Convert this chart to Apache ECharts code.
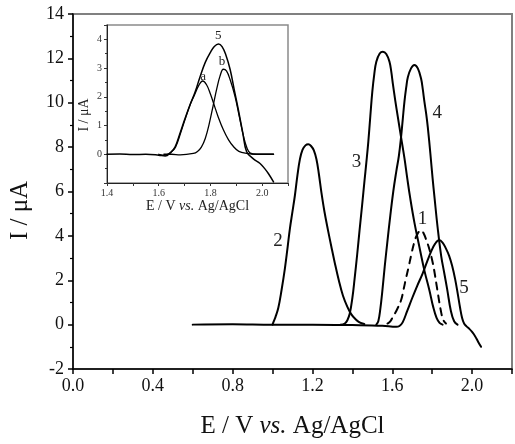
<!DOCTYPE html>
<html>
<head>
<meta charset="utf-8">
<script src="https://cdn.jsdelivr.net/npm/echarts@6/dist/echarts.min.js"></script>
<style>
html, body { margin: 0; padding: 0; background: #fff; }
#chart { width: 515px; height: 444px; }
</style>
</head>
<body>
<div id="chart"></div>
<script>
var mychart = echarts.init(document.getElementById('chart'));
var FONT = 'Liberation Serif';

// main plot: potential (V) vs current (uA)
const curve2 = [[1.00,0],[1.004,0.1],[1.015,0.35],[1.029,0.76],[1.045,1.55],[1.062,2.54],[1.075,3.45],
    [1.087,4.33],[1.10,5.1],[1.112,5.82],[1.125,6.75],[1.137,7.45],[1.15,7.88],[1.165,8.08],[1.179,8.13],
    [1.193,8.05],[1.207,7.85],[1.22,7.45],[1.232,6.8],[1.245,5.95],[1.26,5.1],[1.278,4.25],[1.295,3.5],
    [1.312,2.78],[1.332,2.0],[1.353,1.3],[1.375,0.8],[1.395,0.46],[1.415,0.25],[1.436,0.1],[1.46,0.03]];
const curve3 = [[1.34,0],[1.362,0.05],[1.375,0.2],[1.387,0.5],[1.40,1.2],[1.411,2.05],[1.424,3.15],
    [1.436,4.25],[1.449,5.4],[1.461,6.5],[1.47,7.3],[1.48,8.25],[1.49,9.4],[1.50,10.5],[1.51,11.3],
    [1.52,11.85],[1.537,12.22],[1.553,12.3],[1.57,12.2],[1.586,11.85],[1.595,11.4],[1.603,10.85],
    [1.615,10.1],[1.628,9.35],[1.644,8.45],[1.661,7.5],[1.675,6.6],[1.69,5.7],[1.711,4.6],[1.736,3.5],
    [1.762,2.4],[1.786,1.55],[1.805,0.8],[1.822,0.3],[1.837,0.08],[1.852,0]];
const curve4 = [[1.52,0],[1.53,0.15],[1.54,0.7],[1.55,1.5],[1.562,2.6],[1.575,3.7],[1.59,4.9],
    [1.605,6.0],[1.62,6.9],[1.633,7.6],[1.644,8.45],[1.653,9.3],[1.661,10.05],[1.67,10.7],
    [1.678,11.15],[1.694,11.55],[1.711,11.7],[1.728,11.55],[1.744,11.1],[1.753,10.6],[1.761,10.05],
    [1.77,9.5],[1.778,8.9],[1.791,7.7],[1.802,6.6],[1.812,5.7],[1.827,4.4],[1.845,3.1],[1.86,2.35],
    [1.875,1.6],[1.894,0.6],[1.91,0.15],[1.927,0]];
const curve1 = [[1.576,0.05],[1.59,0.15],[1.603,0.35],[1.622,0.65],[1.644,1.1],[1.657,1.6],
    [1.669,2.1],[1.682,2.6],[1.694,3.1],[1.71,3.7],[1.727,4.1],[1.745,4.25],[1.758,4.1],[1.769,3.85],
    [1.786,3.4],[1.80,2.9],[1.81,2.45],[1.827,1.5],[1.844,0.6],[1.856,0.2],[1.869,0.05]];
const curve5 = [[0.60,0.0],[0.80,0.02],[1.0,0.0],[1.2,0.0],[1.4,-0.02],[1.55,-0.05],[1.62,-0.1],
    [1.636,-0.06],[1.652,0.1],[1.675,0.62],[1.70,1.2],[1.725,1.75],[1.752,2.3],[1.775,2.85],
    [1.795,3.3],[1.815,3.65],[1.835,3.81],[1.852,3.7],[1.868,3.45],[1.885,3.1],[1.90,2.65],
    [1.915,2.05],[1.928,1.4],[1.94,0.75],[1.95,0.3],[1.96,0.05],[1.972,-0.08],[1.985,-0.18],
    [2.0,-0.33],[2.015,-0.52],[2.03,-0.77],[2.045,-1.0]];

// inset: curve 5 and its two resolved peaks a, b
const inset5 = [[1.40,0],[1.45,0.01],[1.50,-0.01],[1.55,0],[1.60,-0.03],[1.625,-0.06],[1.645,0.05],
    [1.663,0.25],[1.683,0.75],[1.70,1.2],[1.72,1.7],[1.74,2.15],[1.76,2.7],[1.78,3.2],[1.80,3.55],
    [1.815,3.75],[1.831,3.84],[1.845,3.75],[1.86,3.45],[1.876,2.96],[1.892,2.25],[1.908,1.55],
    [1.925,0.75],[1.94,0.09],[1.965,-0.15],[1.992,-0.32],[2.01,-0.5],[2.024,-0.67],[2.044,-0.96]];
const insetA = [[1.60,0],[1.625,-0.03],[1.645,0.05],[1.665,0.25],[1.685,0.75],[1.705,1.3],[1.725,1.8],
    [1.74,2.1],[1.755,2.4],[1.77,2.55],[1.785,2.42],[1.80,2.1],[1.815,1.7],[1.83,1.3],[1.85,0.85],
    [1.87,0.5],[1.889,0.27],[1.91,0.1],[1.94,0.03],[1.98,0],[2.044,0]];
const insetB = [[1.62,0],[1.65,0],[1.683,-0.02],[1.734,0.03],[1.75,0.1],[1.765,0.25],[1.78,0.55],
    [1.795,1.05],[1.81,1.67],[1.825,2.3],[1.837,2.72],[1.85,2.96],[1.862,2.9],[1.876,2.6],[1.895,2.02],
    [1.912,1.3],[1.928,0.62],[1.942,0.2],[1.954,0.04],[1.98,0],[2.044,0]];

// curve labels: [text, x, y, grid]
const curveLabels = [['2',1.027,3.75,0],['3',1.421,7.32,0],['4',1.825,9.55,0],['1',1.751,4.78,0],
    ['5',1.96,1.65,0],['5',1.83,4.12,1],['a',1.772,2.71,1],['b',1.845,3.24,1]];

function line(data, xi, w, dashed) {
    return {
        type: 'line', data: data, xAxisIndex: xi, yAxisIndex: xi,
        showSymbol: false, smooth: 0.4, silent: true,
        lineStyle: { color: '#000', width: w, type: dashed ? [7, 6] : 'solid', join: 'round', cap: 'round' }
    };
}

var tickText = { color: '#111', fontFamily: FONT };

option = {
    backgroundColor: '#fff',
    animation: false,
    grid: [
        { left: 72, top: 14, width: 441, height: 358, show: true, borderColor: '#808080', borderWidth: 2 },
        { left: 107, top: 25, width: 181, height: 158, show: true, backgroundColor: '#fff',
          borderColor: '#8a8a8a', borderWidth: 1.5 }
    ],
    xAxis: [
        {
            type: 'value', gridIndex: 0, min: 0, max: 2.2, interval: 0.2,
            name: 'E / V {i|vs.} Ag/AgCl', nameLocation: 'middle', nameGap: 45,
            nameTextStyle: { fontFamily: FONT, fontSize: 25, color: '#111',
                rich: { i: { fontFamily: FONT, fontSize: 25, fontStyle: 'italic', color: '#111' } } },
            axisLine: { onZero: false, lineStyle: { color: '#000', width: 1.5 } },
            axisTick: { length: 5, lineStyle: { color: '#000', width: 1.5 } },
            splitLine: { show: false },
            axisLabel: Object.assign({ fontSize: 18, margin: 8,
                formatter: function (v) {
                    return (Math.round(v * 10) % 4 === 0 && v < 2.15) ? v.toFixed(1) : '';
                } }, tickText)
        },
        {
            type: 'value', gridIndex: 1, min: 1.4, max: 2.1, interval: 0.1,
            name: 'E / V {i|vs.} Ag/AgCl', nameLocation: 'middle', nameGap: 13,
            nameTextStyle: { fontFamily: FONT, fontSize: 14, color: '#222',
                rich: { i: { fontFamily: FONT, fontSize: 14, fontStyle: 'italic', color: '#222' } } },
            axisLine: { onZero: false, lineStyle: { color: '#222', width: 1 } },
            axisTick: { length: 3, lineStyle: { color: '#333' } },
            splitLine: { show: false },
            axisLabel: { fontSize: 10, margin: 5, color: '#333', fontFamily: FONT,
                formatter: function (v) {
                    return (Math.round(v * 10) % 2 === 0 && v < 2.05) ? v.toFixed(1) : '';
                } }
        }
    ],
    yAxis: [
        {
            type: 'value', gridIndex: 0, min: -2, max: 14, interval: 2,
            name: 'I / μA', nameLocation: 'middle', nameGap: 40,
            nameTextStyle: { fontFamily: FONT, fontSize: 25, color: '#111', padding: [0, 38, 0, 0] },
            axisLine: { onZero: false, lineStyle: { color: '#000', width: 1.5 } },
            axisTick: { length: 5, lineStyle: { color: '#000', width: 1.5 } },
            minorTick: { show: true, splitNumber: 2, length: 3, lineStyle: { color: '#000', width: 1.2 } },
            splitLine: { show: false },
            axisLabel: Object.assign({ fontSize: 18, margin: 9 }, tickText)
        },
        {
            type: 'value', gridIndex: 1, min: -1, max: 4.5, interval: 1,
            name: 'I / μA', nameLocation: 'middle', nameGap: 16,
            nameTextStyle: { fontFamily: FONT, fontSize: 14, color: '#222', padding: [0, 22, 0, 0] },
            axisLine: { onZero: false, lineStyle: { color: '#222', width: 1 } },
            axisTick: { length: 3, lineStyle: { color: '#333' } },
            minorTick: { show: true, splitNumber: 2, length: 2, lineStyle: { color: '#333' } },
            splitLine: { show: false },
            axisLabel: { fontSize: 10, margin: 5, color: '#333', fontFamily: FONT,
                formatter: function (v) { return (v >= 0 && v <= 4) ? String(v) : ''; } }
        }
    ],
    series: [
        line(curve5, 0, 2),
        line(curve2, 0, 2),
        line(curve3, 0, 2),
        line(curve4, 0, 2),
        line(curve1, 0, 2, true),
        line(inset5, 1, 1.5),
        line(insetA, 1, 1.3),
        line(insetB, 1, 1.3)
    ]
};
mychart.setOption(option, true);

// place curve numbers through the axes
var texts = curveLabels.map(function (l) {
    var p = mychart.convertToPixel({ gridIndex: l[3] }, [l[1], l[2]]);
    return {
        type: 'text', x: p[0], y: p[1], z: 100,
        style: { text: l[0], fontFamily: FONT, fontSize: l[3] === 0 ? 19 : 13,
            fill: '#222', align: 'center', verticalAlign: 'middle' }
    };
});
mychart.setOption({ graphic: texts });
</script>
</body>
</html>
